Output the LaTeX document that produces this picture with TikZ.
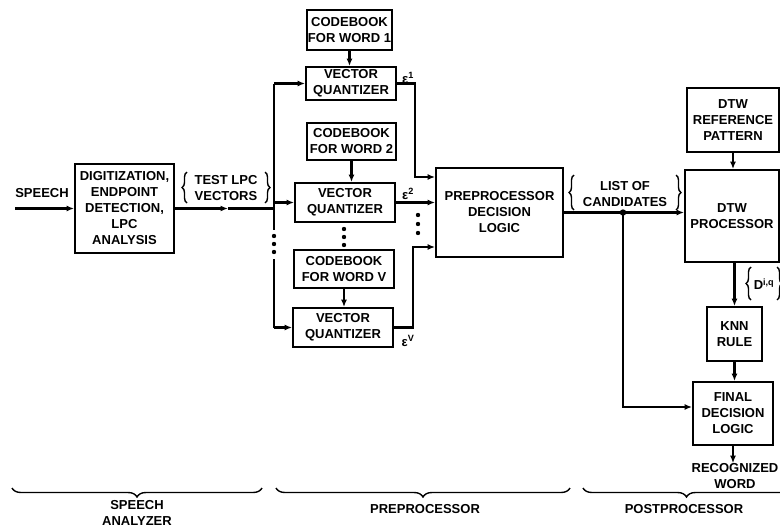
\documentclass[tikz,border=0pt]{standalone}
\usepackage{fontspec}
\setmainfont{Liberation Sans}
\usetikzlibrary{arrows.meta,decorations.pathreplacing}
\begin{document}
\begin{tikzpicture}[x=1pt,y=-1pt,
  every node/.style={font=\fontsize{13}{16}\selectfont\bfseries, inner sep=0pt, align=center},
  box/.style={draw, line width=1.8pt},
  wire/.style={line width=2.3pt},
  arr/.style={wire, -{Latex[length=7.5pt,width=6pt]}},
  brc/.style={line width=1.4pt, decorate, decoration={brace, amplitude=#1}},
  brc/.default=5pt
]
\useasboundingbox (0,0) rectangle (780,528);
\clip (0,0) rectangle (780,528);

% ---------- blocks ----------
\node[box, minimum width=99pt, minimum height=89pt] (dig) at (124.5,208.5)
  {DIGITIZATION,\\ENDPOINT\\DETECTION,\\LPC\\ANALYSIS};
\node[box, minimum width=85pt, minimum height=40pt] (cb1) at (349.5,30) {CODEBOOK\\FOR WORD 1};
\node[box, minimum width=90pt, minimum height=33pt] (vq1) at (351,83.5) {VECTOR\\QUANTIZER};
\node[box, minimum width=89pt, minimum height=37pt] (cb2) at (351.5,141.5) {CODEBOOK\\FOR WORD 2};
\node[box, minimum width=100pt, minimum height=39pt] (vq2) at (345,202.5) {VECTOR\\QUANTIZER};
\node[box, minimum width=100pt, minimum height=38pt] (cbv) at (344,269) {CODEBOOK\\FOR WORD V};
\node[box, minimum width=100pt, minimum height=39pt] (vqv) at (343,327.5) {VECTOR\\QUANTIZER};
\node[box, minimum width=127pt, minimum height=89pt] (pdl) at (499.5,212.5) {PREPROCESSOR\\DECISION\\LOGIC};
\node[box, minimum width=92pt, minimum height=64pt] (ref) at (733,120) {DTW\\REFERENCE\\PATTERN};
\node[box, minimum width=94pt, minimum height=92pt] (dtw) at (732,216) {DTW\\PROCESSOR};
\node[box, minimum width=55pt, minimum height=54pt] (knn) at (734.5,334) {KNN\\RULE};
\node[box, minimum width=80pt, minimum height=63pt] (fdl) at (733,413.5) {FINAL\\DECISION\\LOGIC};

% ---------- labels ----------
\node (speech) at (42,193) {SPEECH};
\node (testlpc) at (226,188) {TEST LPC\\VECTORS};
\node (cand) at (625,194) {LIST OF\\CANDIDATES};
\node (e1) at (408,78) {ε\textsuperscript{1}};
\node (e2) at (408,194) {ε\textsuperscript{2}};
\node (ev) at (408,341) {ε\textsuperscript{V}};
\node (dist) at (764,284) {D\textsuperscript{i,q}};
\node (word) at (735,476) {RECOGNIZED\\WORD};
\node (lab1) at (137,513) {SPEECH\\ANALYZER};
\node (lab2) at (425,509) {PREPROCESSOR};
\node (lab3) at (684,509) {POSTPROCESSOR};

% ---------- braces ----------
\draw[brc] (187,203) -- (187,172);
\draw[brc] (265,172) -- (265,203);
\draw[brc] (574,210) -- (574,175);
\draw[brc] (676,175) -- (676,210);
\draw[brc] (751,300) -- (751,267);
\draw[brc] (777,267) -- (777,300);
\draw[brc=9pt] (262,488) -- (12,488);
\draw[brc=9pt] (570,488) -- (276,488);
\draw[brc=9pt] (790,488) -- (583,488);

% ---------- coordinates ----------
\coordinate (sp) at (15,208.5);
\coordinate (mid) at (228,208.5);
\coordinate (bt) at (274,83.5);
\coordinate (bj) at (274,208.5);
\coordinate (gap1) at (274,230);
\coordinate (gap2) at (274,259);
\coordinate (r1) at (415,177);
\coordinate (rv) at (413,247);
\coordinate (j) at (623,212.5);
\coordinate (fin) at (623,407);

% ---------- speech analyzer ----------
\draw[arr] (sp) -- (dig.west);
\draw[arr] (dig.east) -- (mid);
\draw[wire] (mid) -- (bj);

% ---------- input bus to the quantizers ----------
\draw[wire] (bt) -- (gap1);
\draw[wire] (gap2) -- (bt |- vqv.west);
\fill (274,236) circle (2.2pt) (274,244) circle (2.2pt) (274,252) circle (2.2pt);
\draw[arr] (bt) -- (vq1.west);
\draw[arr] (bt |- vq2.west) -- (vq2.west);
\draw[arr] (bt |- vqv.west) -- (vqv.west);

% ---------- codebooks ----------
\draw[arr] (cb1.south) -- (cb1.south |- vq1.north);
\draw[arr] (cb2.south) -- (cb2.south |- vq2.north);
\draw[arr] (cbv.south) -- (cbv.south |- vqv.north);
\fill (344,229) circle (2.2pt) (344,237) circle (2.2pt) (344,245) circle (2.2pt);

% ---------- distortions to the decision logic ----------
\draw[arr] (vq1.east) -| (r1) -- (r1 -| pdl.west);
\draw[arr] (vq2.east) -- (vq2.east -| pdl.west);
\draw[arr] (vqv.east) -| (rv) -- (rv -| pdl.west);
\fill (418,215) circle (2.2pt) (418,224) circle (2.2pt) (418,233) circle (2.2pt);

% ---------- postprocessor ----------
\draw[arr] (pdl.east) -- (pdl.east -| dtw.west);
\fill (j) circle (3.2pt);
\draw[arr] (j) -- (fin) -- (fin -| fdl.west);
\draw[arr] (ref.south) -- (ref.south |- dtw.north);
\draw[arr] (knn.north |- dtw.south) -- (knn.north);
\draw[arr] (knn.south) -- (knn.south |- fdl.north);
\draw[arr] (fdl.south) -- (fdl.south |- word.north);
\end{tikzpicture}
\end{document}
